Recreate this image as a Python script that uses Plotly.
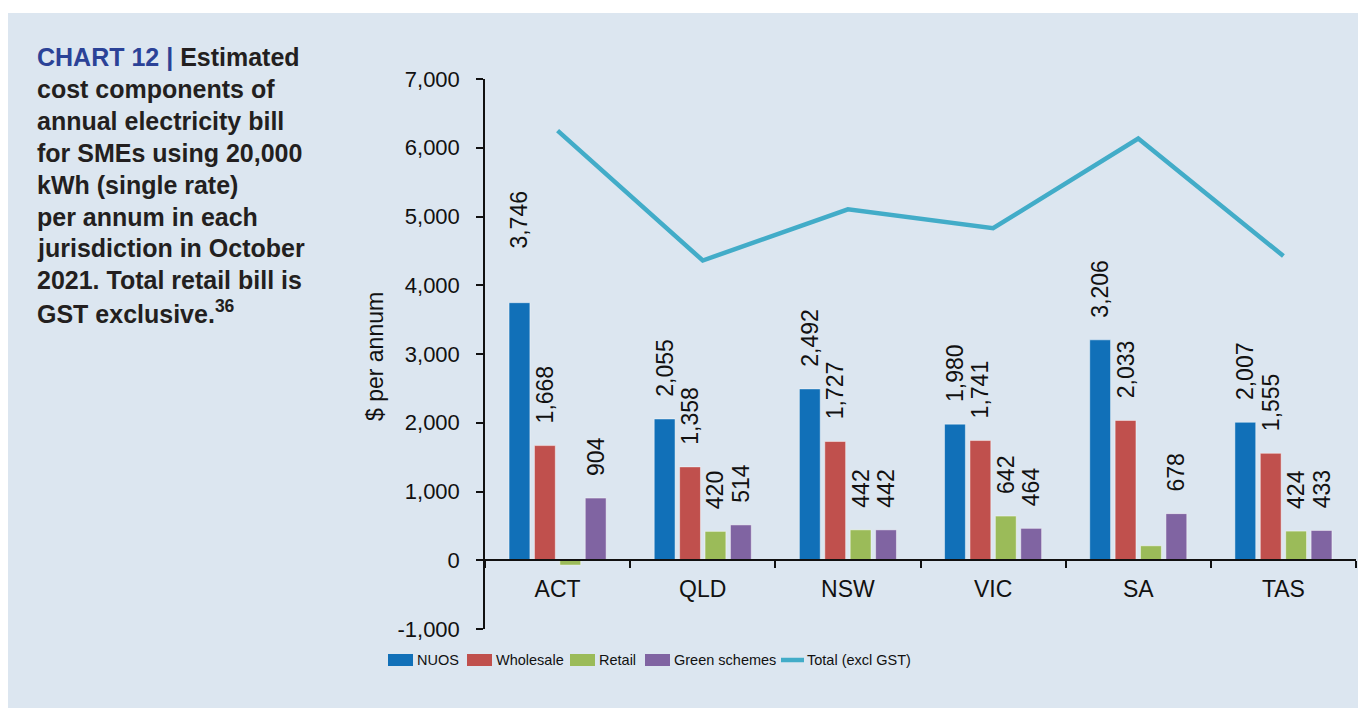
import plotly.graph_objects as go

STATES = ["ACT", "QLD", "NSW", "VIC", "SA", "TAS"]
NUOS = [3746, 2055, 2492, 1980, 3206, 2007]
WHOLESALE = [1668, 1358, 1727, 1741, 2033, 1555]
RETAIL = [-70, 420, 442, 642, 210, 424]
GREEN = [904, 514, 442, 464, 678, 433]
TOTAL = [6250, 4360, 5105, 4830, 6135, 4425]
RETAIL_SHOWN = [False, True, True, True, False, True]
Y_TICKS = [-1000, 0, 1000, 2000, 3000, 4000, 5000, 6000, 7000]

TITLE_LINES = [
    "<span style='color:#2b4297'>CHART 12 | </span>Estimated",
    "cost components of",
    "annual electricity bill",
    "for SMEs using 20,000",
    "kWh (single rate)",
    "per annum in each",
    "jurisdiction in October",
    "2021. Total retail bill is",
    "GST exclusive.<sup>36</sup>",
]

# page is shown with the browser's 8px body margin, so work in page pixels
OFF = 8
W, H = 1366, 708
L, T = 485 - OFF, 79 - OFF
B = H - (629 - OFF)
R = W - (1356 - OFF)
PANEL = "#dce6f0"
INK = "#111111"
FONT = "Liberation Sans, Arial, sans-serif"
NBSP = "\u00a0"

COLORS = {"NUOS": "#1170b8", "Wholesale": "#c0504d", "Retail": "#9bbb59",
          "Green schemes": "#8064a2", "Total (excl GST)": "#42acc8"}


def px_x(p):
    return (p - OFF - L) / (W - L - R)


def px_y(q):
    return (H - B - (q - OFF)) / (H - T - B)


def labels(vals, pad=None):
    return [NBSP * (3 if pad is None else pad[i]) + f"{v:,}" for i, v in enumerate(vals)]


def add_bars(fig, name, x, y, text=None):
    fig.add_trace(go.Bar(
        x=x, y=y, name=name, offsetgroup=name,
        marker=dict(color=COLORS[name], line=dict(color="rgba(255,255,255,0.45)", width=1)),
        text=text, textposition="outside" if text else "none", textangle=-90,
        textfont=dict(family=FONT, size=23, color=INK),
        constraintext="none", cliponaxis=False, showlegend=False,
    ))


fig = go.Figure()
add_bars(fig, "NUOS", STATES, NUOS, labels(NUOS, [8, 3, 3, 3, 3, 3]))
add_bars(fig, "Wholesale", STATES, WHOLESALE, labels(WHOLESALE))
# retail: unlabelled bars (ACT, SA) share the slot with the labelled ones
retail_lab = labels(RETAIL)
add_bars(fig, "Retail", STATES, [v if s else None for v, s in zip(RETAIL, RETAIL_SHOWN)],
         [t if s else None for t, s in zip(retail_lab, RETAIL_SHOWN)])
add_bars(fig, "Retail", STATES, [None if s else v for v, s in zip(RETAIL, RETAIL_SHOWN)])
add_bars(fig, "Green schemes", STATES, GREEN, labels(GREEN))

fig.add_trace(go.Scatter(
    x=STATES, y=TOTAL, name="Total (excl GST)", mode="lines",
    line=dict(color=COLORS["Total (excl GST)"], width=4.5), showlegend=False,
))

# panel background
shapes = [dict(type="rect", xref="paper", yref="paper", layer="below",
               x0=px_x(8), x1=px_x(1380), y0=px_y(730), y1=px_y(13),
               fillcolor=PANEL, line=dict(width=0))]

annotations = []
for i, line in enumerate(TITLE_LINES):
    annotations.append(dict(
        xref="paper", yref="paper", x=px_x(35), y=px_y(57 + i * 31.9),
        xanchor="left", yanchor="middle", showarrow=False, text=f"<b>{line}</b>",
        font=dict(family=FONT, size=25, color="#231f20"),
    ))

annotations.append(dict(
    xref="paper", yref="paper", x=px_x(375), y=px_y(357), textangle=-90,
    xanchor="center", yanchor="middle", showarrow=False, text="$ per annum",
    font=dict(family=FONT, size=23, color=INK),
))

# legend drawn by hand to match the wide swatches
legend_items = [("NUOS", 388, "bar"), ("Wholesale", 467, "bar"), ("Retail", 570, "bar"),
                ("Green schemes", 645, "bar"), ("Total (excl GST)", 778, "line")]
ly = 660
for name, x0, kind in legend_items:
    if kind == "bar":
        shapes.append(dict(type="rect", xref="paper", yref="paper",
                           x0=px_x(x0), x1=px_x(x0 + 25), y0=px_y(ly + 6), y1=px_y(ly - 6),
                           fillcolor=COLORS[name], line=dict(width=0)))
    else:
        shapes.append(dict(type="line", xref="paper", yref="paper",
                           x0=px_x(x0 + 3), x1=px_x(x0 + 26), y0=px_y(ly), y1=px_y(ly),
                           line=dict(color=COLORS[name], width=4.5)))
    annotations.append(dict(
        xref="paper", yref="paper", x=px_x(x0 + 27), y=px_y(ly), xanchor="left",
        yanchor="middle", showarrow=False, text=name,
        font=dict(family=FONT, size=14.5, color=INK),
    ))

fig.update_layout(
    width=W, height=H,
    margin=dict(l=L, r=R, t=T, b=B),
    paper_bgcolor="white", plot_bgcolor="rgba(0,0,0,0)",
    barmode="group", bargap=0.3, bargroupgap=0.18,
    font=dict(family=FONT, color=INK),
    shapes=shapes, annotations=annotations,
    xaxis=dict(
        anchor="free", position=0.125, showline=True, linecolor=INK, linewidth=1.5,
        ticks="outside", ticklen=7, tickcolor=INK, tickwidth=1.5, tickson="boundaries",
        tickfont=dict(family=FONT, size=23, color=INK), showgrid=False, zeroline=False,
        ticklabelstandoff=8,
    ),
    yaxis=dict(
        range=[-1000, 7000], tickmode="array", tickvals=Y_TICKS,
        ticktext=[f"{v:,}" for v in Y_TICKS], showline=True, linecolor=INK,
        linewidth=1.5, ticks="outside", ticklen=7, tickcolor=INK, tickwidth=1.5,
        tickfont=dict(family=FONT, size=22, color=INK), showgrid=False, zeroline=False,
        ticklabelstandoff=12,
    ),
)

fig.write_html("out.html")
